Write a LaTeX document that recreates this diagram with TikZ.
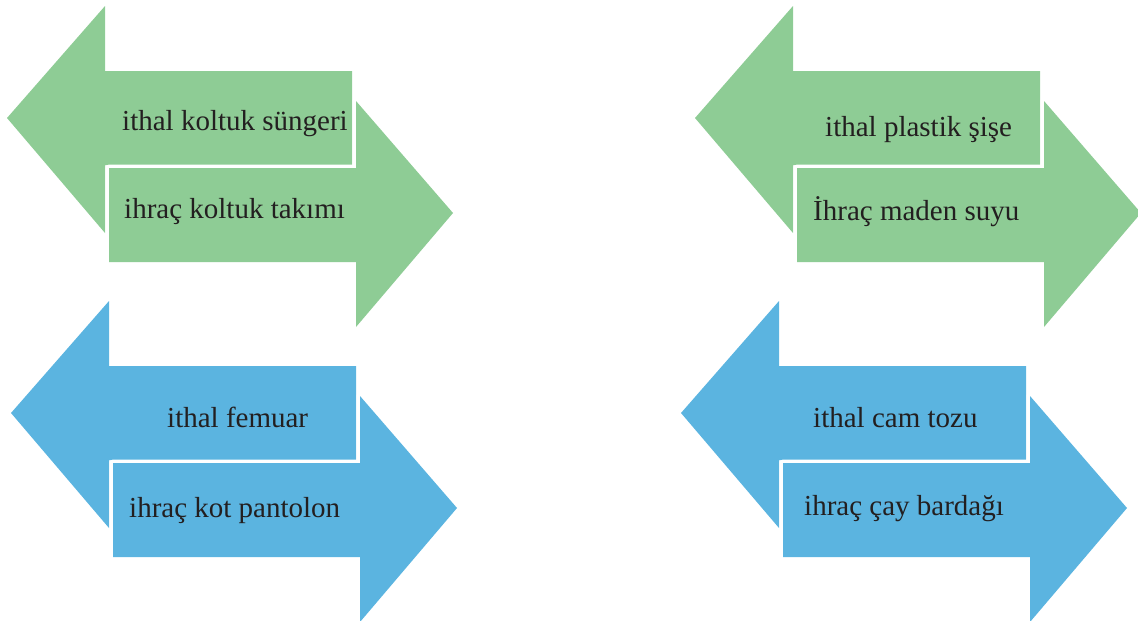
\documentclass[tikz,border=0pt]{standalone}
\usepackage{fontspec}
\setmainfont{Liberation Serif}
\definecolor{agreen}{RGB}{142,204,149}
\definecolor{ablue}{RGB}{91,180,224}
\definecolor{txt}{RGB}{35,31,32}
\newcommand\arrowpair[3]{%
  \begin{scope}[shift={(#2,#3)}]
    \fill[#1] (0,112) -- (98,0) -- (98,65) -- (345,65) -- (345,159) -- (98,159) -- (98,227) -- cycle;
    \draw[white, line width=7pt, line join=round]
      (102,162) -- (349,162) -- (349,95) -- (446,207) -- (349,321) -- (349,256) -- (102,256) -- cycle;
    \fill[#1]
      (102,162) -- (349,162) -- (349,95) -- (446,207) -- (349,321) -- (349,256) -- (102,256) -- cycle;
  \end{scope}}
\tikzset{lbl/.style={anchor=base west, inner sep=0pt, text=txt, font=\fontsize{29}{34}\selectfont}}
\begin{document}
\begin{tikzpicture}[x=1pt,y=-1pt]
\useasboundingbox (0,0) rectangle (1138,621);
\arrowpair{agreen}{7}{6}
\arrowpair{agreen}{695}{6}
\arrowpair{ablue}{11}{301}
\arrowpair{ablue}{681}{301}
\node[lbl] (t1) at (122,130) {ithal koltuk süngeri};
\node[lbl] (b1) at (124,218) {ihraç koltuk takımı};
\node[lbl] (t2) at (825,136) {ithal plastik şişe};
\node[lbl] (b2) at (813,220) {İhraç maden suyu};
\node[lbl] (t3) at (167,427) {ithal femuar};
\node[lbl] (b3) at (129,517) {ihraç kot pantolon};
\node[lbl] (t4) at (813,427) {ithal cam tozu};
\node[lbl] (b4) at (804,515) {ihraç çay bardağı};
\end{tikzpicture}
\end{document}
